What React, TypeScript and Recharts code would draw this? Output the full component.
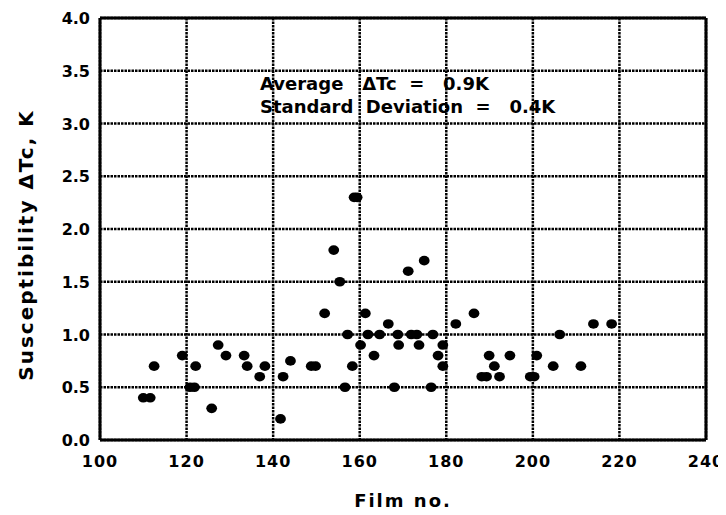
import { ScatterChart, Scatter, XAxis, YAxis, CartesianGrid, Label } from 'recharts';

// film number vs. susceptibility transition width
const filmNo = [
  110, 111.6, 112.5, 119, 120.8, 121.8, 122.1, 125.8, 127.3, 129.1, 133.3, 134, 136.9, 138.1,
  141.7, 142.3, 144, 148.8, 149.8, 151.9, 154, 155.4, 156.6, 157.2, 158.3, 158.7, 159.4, 160.2,
  161.3, 161.9, 163.3, 164.6, 166.6, 168, 168.8, 169, 171.2, 171.9, 173.2, 173.7, 174.9, 176.5,
  176.9, 178.1, 179.2, 179.2, 182.2, 186.4, 188.2, 189.3, 189.9, 191.1, 192.3, 194.7, 199.4,
  200.3, 200.9, 204.7, 206.2, 211.1, 214, 218.2,
];
const deltaTc = [
  0.4, 0.4, 0.7, 0.8, 0.5, 0.5, 0.7, 0.3, 0.9, 0.8, 0.8, 0.7, 0.6, 0.7,
  0.2, 0.6, 0.75, 0.7, 0.7, 1.2, 1.8, 1.5, 0.5, 1.0, 0.7, 2.3, 2.3, 0.9,
  1.2, 1.0, 0.8, 1.0, 1.1, 0.5, 1.0, 0.9, 1.6, 1.0, 1.0, 0.9, 1.7, 0.5,
  1.0, 0.8, 0.9, 0.7, 1.1, 1.2, 0.6, 0.6, 0.8, 0.7, 0.6, 0.8, 0.6,
  0.6, 0.8, 0.7, 1.0, 0.7, 1.1, 1.1,
];

const xTicks = [100, 120, 140, 160, 180, 200, 220, 240];
const xMinorTicks = [100, 110, 120, 130, 140, 150, 160, 170, 180, 190, 200, 210, 220, 230, 240];
const yTicks = [0, 0.5, 1, 1.5, 2, 2.5, 3, 3.5, 4];
const yMinorTicks = [
  0, 0.1, 0.2, 0.3, 0.4, 0.5, 0.6, 0.7, 0.8, 0.9, 1, 1.1, 1.2, 1.3, 1.4, 1.5, 1.6, 1.7, 1.8, 1.9,
  2, 2.1, 2.2, 2.3, 2.4, 2.5, 2.6, 2.7, 2.8, 2.9, 3, 3.1, 3.2, 3.3, 3.4, 3.5, 3.6, 3.7, 3.8, 3.9, 4,
];

const xTitle = 'Film no.';
const yTitle = 'Susceptibility ΔTc, K';
const noteLines = ['Average   ΔTc  =   0.9K', 'Standard  Deviation  =   0.4K'];

const points = filmNo.map((x, i) => ({ x, y: deltaTc[i] }));

const FONT = '"DejaVu Sans", sans-serif';
const INK = '#000';

const Dot = (props: any) => <ellipse cx={props.cx} cy={props.cy} rx={5.4} ry={4.8} fill={INK} />;

const XTick = (props: any) => (
  <text x={props.x} y={props.y + 27} textAnchor="middle" fontFamily={FONT} fontWeight="bold" fontSize={16} letterSpacing={1} fill={INK}>
    {props.payload.value}
  </text>
);

const YTick = (props: any) => (
  <text x={props.x} y={props.y + 6} textAnchor="end" fontFamily={FONT} fontWeight="bold" fontSize={16} fill={INK}>
    {props.payload.value.toFixed(1)}
  </text>
);

const noTick = () => <g />;

export default function App() {
  return (
    <ScatterChart width={710} height={507} margin={{ top: 10, right: 12, bottom: 7, left: 0 }}>
      <CartesianGrid stroke={INK} strokeWidth={2.5} strokeDasharray="2.5 1" horizontalValues={yTicks} verticalValues={xTicks} />
      <XAxis
        type="number"
        dataKey="x"
        domain={[100, 240]}
        ticks={xTicks}
        interval={0}
        height={68}
        tickLine={false}
        tickSize={0}
        tickMargin={0}
        tick={XTick}
        axisLine={{ stroke: INK, strokeWidth: 3 }}
      >
        <Label
          content={() => (
            <text x={395} y={499} textAnchor="middle" fontFamily={FONT} fontWeight="bold" fontSize={18} letterSpacing={2} fill={INK}>
              {xTitle}
            </text>
          )}
        />
      </XAxis>
      <XAxis xAxisId="bottomMinor" type="number" domain={[100, 240]} ticks={xMinorTicks} interval={0} mirror tick={noTick} tickSize={4} tickLine={{ stroke: INK, strokeWidth: 1.5 }} axisLine={false} />
      <XAxis xAxisId="top" orientation="top" type="number" domain={[100, 240]} ticks={xMinorTicks} interval={0} mirror tick={noTick} tickSize={3} tickLine={{ stroke: INK, strokeWidth: 1.5 }} axisLine={{ stroke: INK, strokeWidth: 3 }} />
      <YAxis
        type="number"
        dataKey="y"
        domain={[0, 4]}
        ticks={yTicks}
        interval={0}
        width={92}
        tickLine={false}
        tickSize={0}
        tickMargin={10}
        tick={YTick}
        axisLine={{ stroke: INK, strokeWidth: 3 }}
      >
        <Label
          content={() => (
            <g>
              <text
                transform="translate(25, 237) rotate(-90)"
                textAnchor="middle"
                fontFamily={FONT}
                fontWeight="bold"
                fontSize={20}
                letterSpacing={2}
                fill={INK}
              >
                {yTitle}
              </text>
              {noteLines.map((line, i) => (
                <text key={line} x={252} y={82 + i * 23} fontFamily={FONT} fontWeight="bold" fontSize={18} fill={INK} style={{ whiteSpace: 'pre' }}>
                  {line}
                </text>
              ))}
            </g>
          )}
        />
      </YAxis>
      <YAxis yAxisId="leftMinor" type="number" domain={[0, 4]} ticks={yMinorTicks} interval={0} mirror tick={noTick} tickSize={6} tickLine={{ stroke: INK, strokeWidth: 1.5 }} axisLine={false} />
      <YAxis yAxisId="right" orientation="right" type="number" domain={[0, 4]} ticks={yMinorTicks} interval={0} mirror tick={noTick} tickSize={4} tickLine={{ stroke: INK, strokeWidth: 1.5 }} axisLine={{ stroke: INK, strokeWidth: 3 }} />
      <Scatter data={points} fill={INK} shape={Dot} isAnimationActive={false} />
    </ScatterChart>
  );
}
